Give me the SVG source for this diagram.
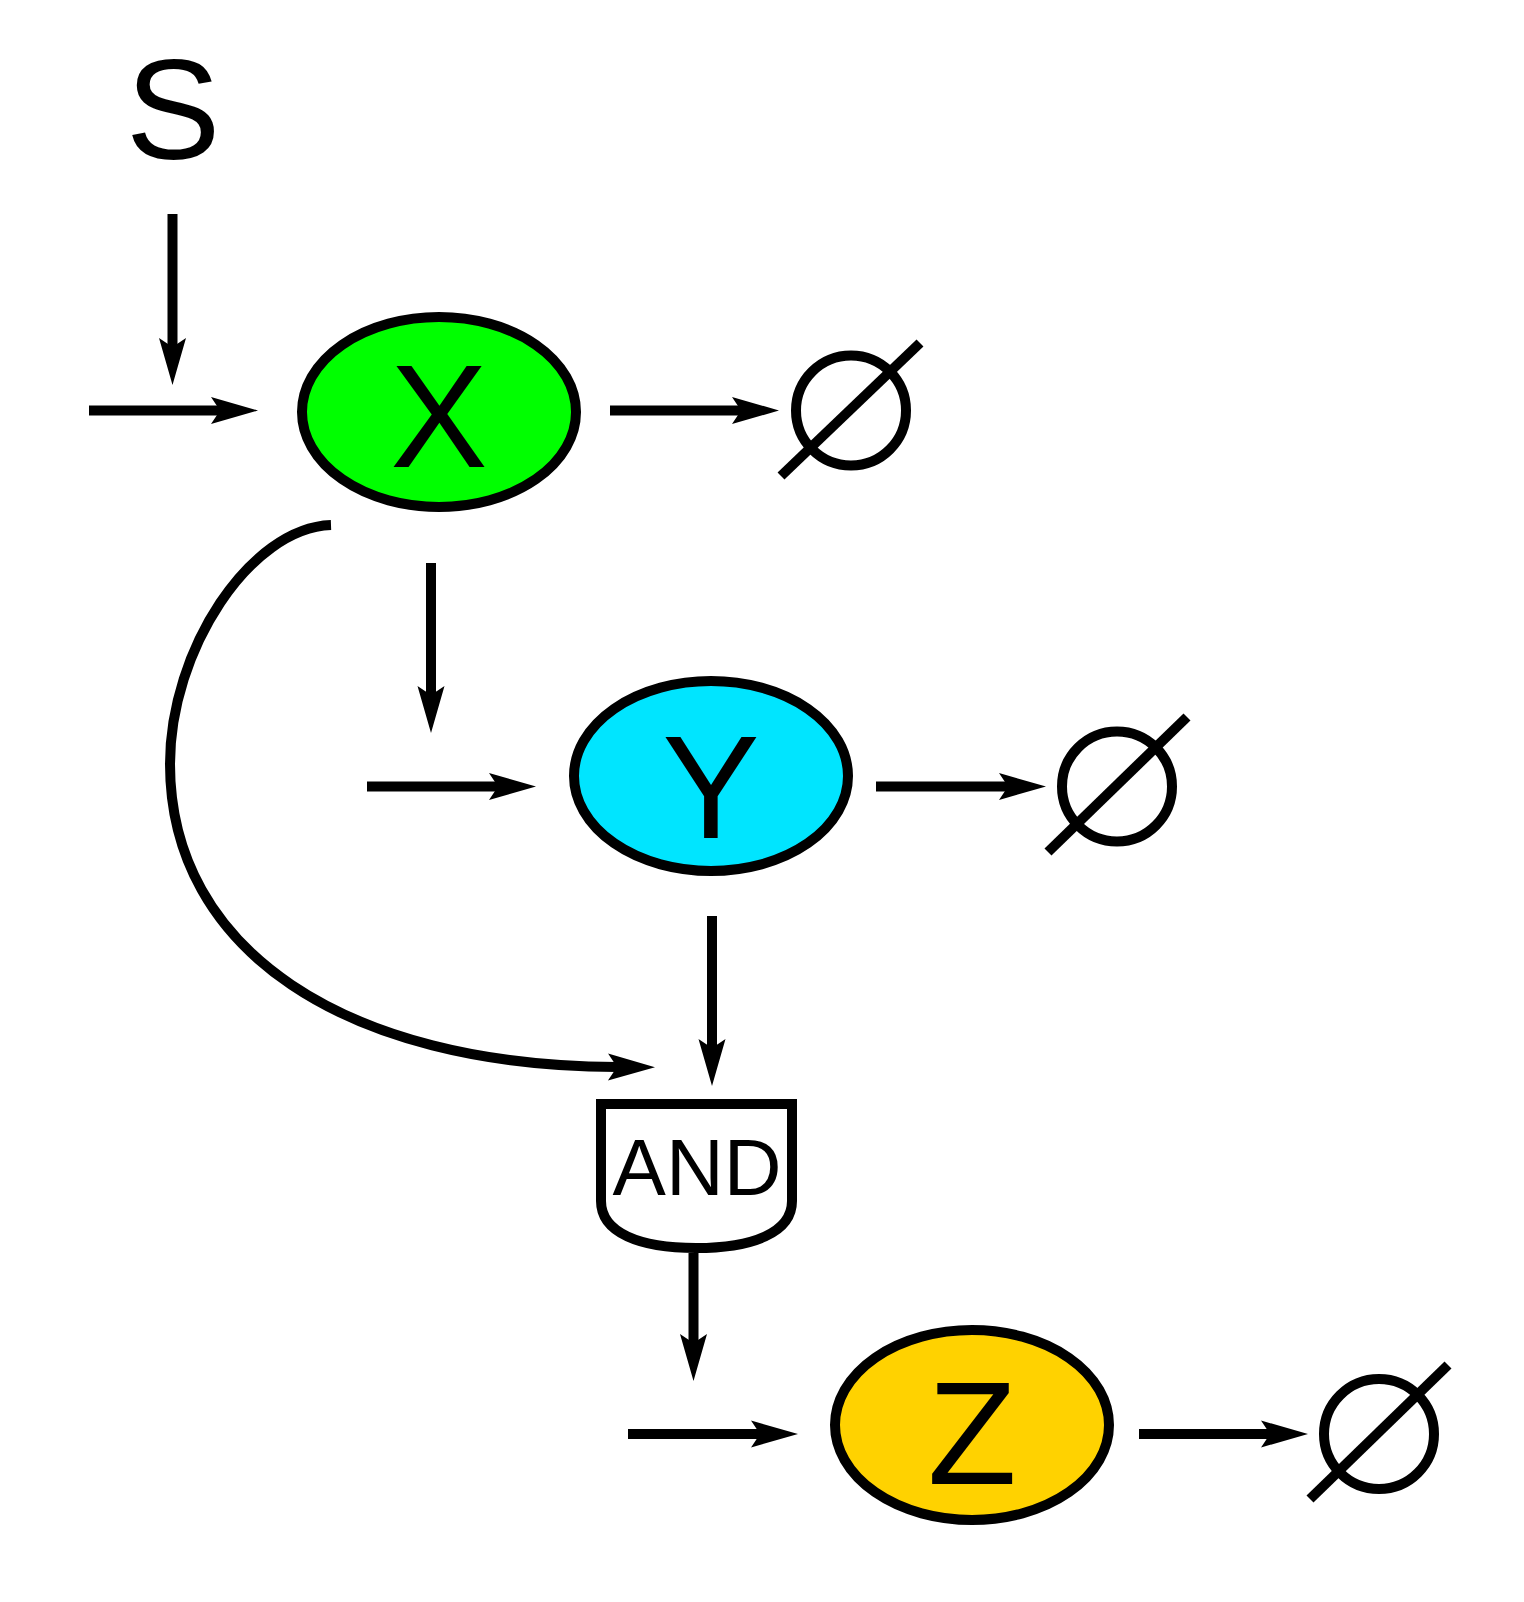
<svg xmlns="http://www.w3.org/2000/svg" width="1524" height="1602" viewBox="0 0 1524 1602">
<defs>
<style>
.ln{fill:none;stroke:#000;stroke-width:10;marker-end:url(#ah)}
.nd{stroke:#000;stroke-width:10}
.lbl{font-family:"Liberation Sans",Arial,sans-serif;fill:#000;text-anchor:middle}
.big{font-size:146px}
.sink{fill:none;stroke:#000;stroke-width:10}
</style>
<marker id="ah" markerUnits="userSpaceOnUse" markerWidth="60" markerHeight="40" refX="0" refY="0" orient="auto" overflow="visible">
<path d="M38,0 L-9,-13.5 L0,0 L-9,13.5 Z" fill="#000"/>
</marker>
</defs>
<rect width="1524" height="1602" fill="#fff"/>
<g id="S"><text class="lbl" style="font-size:142px" x="173" y="159">S</text></g>
<g id="X"><ellipse class="nd" cx="439" cy="412" rx="137" ry="95" fill="#00ff00"/><text class="lbl big" x="439" y="467">X</text></g>
<g id="Y"><ellipse class="nd" cx="711" cy="776" rx="137" ry="95" fill="#00e5ff"/><text class="lbl big" x="711" y="838">Y</text></g>
<g id="Z"><ellipse class="nd" cx="972" cy="1425" rx="137" ry="95" fill="#ffd200"/><text class="lbl big" x="972" y="1484">Z</text></g>
<g id="AND"><path class="nd" fill="#fff" d="M601,1104 H792 V1201 C792,1233 752,1248 696,1248 C640,1248 601,1233 601,1201 Z"/><text class="lbl" style="font-size:80px" x="697" y="1195">AND</text></g>
<g id="sink1"><circle class="sink" cx="851" cy="410.5" r="55"/><line class="sink" x1="781" y1="476" x2="920" y2="343"/></g>
<g id="sink2"><circle class="sink" cx="1117" cy="786.5" r="55"/><line class="sink" x1="1048" y1="852" x2="1187" y2="717"/></g>
<g id="sink3"><circle class="sink" cx="1379" cy="1434" r="55"/><line class="sink" x1="1310" y1="1499" x2="1448" y2="1365"/></g>
<g id="connectors">
<line class="ln" x1="172.5" y1="214" x2="172.5" y2="347"/>
<line class="ln" x1="89" y1="410.5" x2="220" y2="410.5"/>
<line class="ln" x1="610" y1="410.5" x2="741" y2="410.5"/>
<line class="ln" x1="431" y1="563" x2="431" y2="695"/>
<line class="ln" x1="367" y1="786.5" x2="498" y2="786.5"/>
<line class="ln" x1="876" y1="786.5" x2="1008" y2="786.5"/>
<line class="ln" x1="712" y1="916" x2="712" y2="1048"/>
<path class="ln" d="M331,525 C250,528 170,650 170,764 C170,950 345,1066 617,1067"/>
<line class="ln" x1="693.5" y1="1253" x2="693.5" y2="1343"/>
<line class="ln" x1="628" y1="1434" x2="760" y2="1434"/>
<line class="ln" x1="1139" y1="1434" x2="1270" y2="1434"/>
</g>
</svg>
